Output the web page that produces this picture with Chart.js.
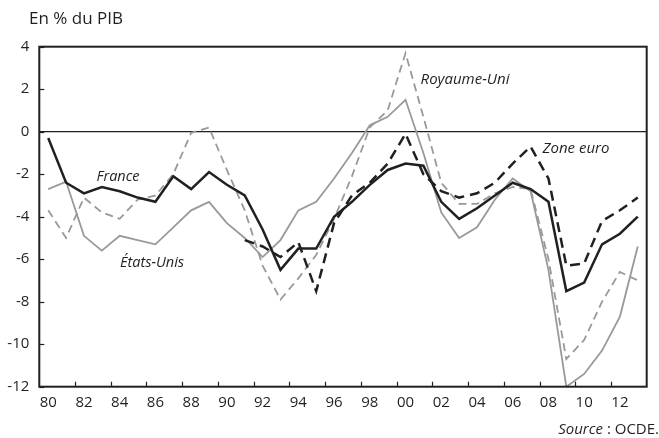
<!DOCTYPE html>
<html>
<head>
<meta charset="utf-8">
<script src="https://cdn.jsdelivr.net/npm/chart.js@4/dist/chart.umd.min.js"></script>
<style>
  html, body { margin: 0; padding: 0; background: #fff; }
  #wrap { position: relative; width: 659px; height: 438px; }
</style>
</head>
<body>
<div id="wrap"><canvas id="deficitChart" width="659" height="438"></canvas></div>
<script>
// Solde public, en % du PIB, 1980-2013
const years = Array.from({ length: 34 }, (_, i) => String(1980 + i).slice(2));

const france = [-0.3, -2.4, -2.9, -2.6, -2.8, -3.1, -3.3, -2.1, -2.7, -1.9,
  -2.5, -3.0, -4.6, -6.5, -5.5, -5.5, -4.0, -3.3, -2.5, -1.8,
  -1.5, -1.6, -3.3, -4.1, -3.6, -3.0, -2.4, -2.7, -3.3, -7.5,
  -7.1, -5.3, -4.8, -4.0];

const zoneEuro = [null, null, null, null, null, null, null, null, null, null,
  null, -5.1, -5.4, -5.9, -5.2, -7.5, -4.3, -3.0, -2.4, -1.5,
  -0.1, -2.0, -2.8, -3.1, -2.9, -2.4, -1.5, -0.7, -2.2, -6.3,
  -6.2, -4.2, -3.7, -3.1];

const royaumeUni = [-3.7, -5.0, -3.1, -3.8, -4.1, -3.2, -3.0, -2.0, -0.05, 0.2,
  -1.8, -3.7, -6.3, -7.9, -6.9, -5.8, -4.1, -2.1, 0.2, 1.0,
  3.7, 0.7, -2.4, -3.4, -3.4, -2.9, -2.6, -2.7, -6.0, -10.7,
  -9.8, -8.0, -6.6, -7.0];

const etatsUnis = [-2.7, -2.35, -4.9, -5.6, -4.9, -5.1, -5.3, -4.5, -3.7, -3.3,
  -4.3, -5.0, -5.9, -5.1, -3.7, -3.3, -2.2, -1.0, 0.3, 0.7,
  1.5, -1.0, -3.8, -5.0, -4.5, -3.2, -2.2, -2.8, -6.5, -12.0,
  -11.4, -10.3, -8.7, -5.4];

const yTicks = [4, 2, 0, -2, -4, -6, -8, -10, -12];

const ink = "#231f20";
const grey = "#999999";
const font = "'Open Sans', 'DejaVu Sans', sans-serif";

// frame, inner tick marks, series names, header and source
const decorations = {
  id: "decorations",
  afterDraw(chart) {
    const { ctx, chartArea: a, scales: { x, y } } = chart;
    ctx.save();
    ctx.strokeStyle = ink;
    ctx.lineWidth = 1.2;
    for (let i = 2; i < years.length; i += 2) {
      const px = Math.round((x.getPixelForValue(i - 1) + x.getPixelForValue(i)) / 2) + 0.5;
      ctx.beginPath();
      ctx.moveTo(px, a.bottom);
      ctx.lineTo(px, a.bottom - 5);
      ctx.stroke();
    }
    yTicks.forEach((v) => {
      const py = Math.round(y.getPixelForValue(v)) + 0.5;
      ctx.beginPath();
      ctx.moveTo(a.left, py);
      ctx.lineTo(a.left + 5, py);
      ctx.stroke();
    });
    ctx.lineWidth = 2;
    ctx.strokeRect(a.left, a.top, a.right - a.left, a.bottom - a.top);

    ctx.fillStyle = ink;
    ctx.textBaseline = "middle";
    ctx.textAlign = "center";
    ctx.font = "italic 14.5px " + font;
    ctx.fillText("France", 118, 177);
    ctx.fillText("États-Unis", 152, 263);
    ctx.font = "italic 15px " + font;
    ctx.fillText("Royaume-Uni", 465, 80);
    ctx.fillText("Zone euro", 576, 149);

    ctx.textAlign = "left";
    ctx.font = "17px " + font;
    ctx.fillText("En % du PIB", 29, 19);

    ctx.textAlign = "right";
    ctx.font = "15px " + font;
    const tail = " : OCDE.";
    ctx.fillText(tail, 659, 430);
    const w = ctx.measureText(tail).width;
    ctx.font = "italic 15px " + font;
    ctx.fillText("Source", 659 - w, 430);
    ctx.restore();
  },
};

new Chart(document.getElementById("deficitChart"), {
  type: "line",
  data: {
    labels: years,
    datasets: [
      { label: "France", data: france, borderColor: ink, borderWidth: 2.5 },
      { label: "Zone euro", data: zoneEuro, borderColor: ink, borderWidth: 2.5, borderDash: [10, 6] },
      { label: "Royaume-Uni", data: royaumeUni, borderColor: grey, borderWidth: 1.8, borderDash: [8, 5] },
      { label: "États-Unis", data: etatsUnis, borderColor: grey, borderWidth: 1.8 },
    ],
  },
  options: {
    responsive: false,
    animation: false,
    devicePixelRatio: 1,
    spanGaps: false,
    elements: { point: { radius: 0 }, line: { tension: 0, borderCapStyle: "butt" } },
    layout: { padding: { top: 46.7, right: 12.3, left: 0, bottom: 0 } },
    plugins: { legend: { display: false }, tooltip: { enabled: false } },
    scales: {
      x: {
        offset: true,
        grid: { display: false, drawTicks: false },
        border: { display: false },
        afterFit(s) { s.height = 51.3; },
        ticks: {
          autoSkip: false,
          maxRotation: 0,
          padding: 7,
          color: ink,
          font: { family: font, size: 15 },
          callback(v, i) { return i % 2 === 0 ? years[i] : ""; },
        },
      },
      y: {
        min: -12,
        max: 4,
        afterFit(s) { s.width = 39.3; },
        afterBuildTicks(s) { s.ticks = yTicks.map((v) => ({ value: v })); },
        border: { display: false },
        grid: {
          drawTicks: false,
          lineWidth: 1.3,
          color: (c) => (c.tick && c.tick.value === 0 ? ink : "rgba(0,0,0,0)"),
        },
        ticks: {
          padding: 10,
          color: ink,
          font: { family: font, size: 15 },
        },
      },
    },
  },
  plugins: [decorations],
});
</script>
</body>
</html>
